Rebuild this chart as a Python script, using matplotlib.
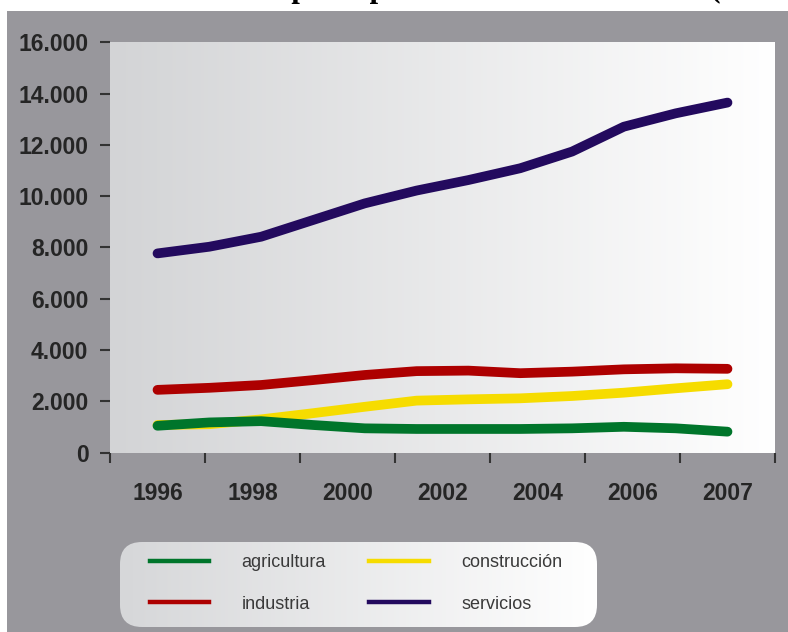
import matplotlib
matplotlib.use("Agg")
import matplotlib.pyplot as plt
import numpy as np
from matplotlib.lines import Line2D
from matplotlib.patches import Rectangle, FancyBboxPatch
from matplotlib.colors import LinearSegmentedColormap

# datos (miles de ocupados)
years = list(range(1996, 2008))
agricultura = [1050, 1180, 1230, 1080, 950, 925, 925, 925, 950, 1010, 950, 820]
industria = [2450, 2530, 2640, 2830, 3030, 3180, 3200, 3100, 3160, 3250, 3290, 3270]
construccion = [1080, 1110, 1300, 1540, 1790, 2030, 2080, 2120, 2210, 2340, 2510, 2670]
servicios = [7770, 8030, 8420, 9070, 9720, 10220, 10630, 11090, 11740, 12710, 13230, 13650]

x_labels = ["1996", "1998", "2000", "2002", "2004", "2006", "2007"]
y_ticks = [0, 2000, 4000, 6000, 8000, 10000, 12000, 14000, 16000]
y_labels = ["0", "2.000", "4.000", "6.000", "8.000", "10.000", "12.000", "14.000", "16.000"]

series = {
    "agricultura": {"values": agricultura, "color": "#00752b"},
    "industria": {"values": industria, "color": "#ad0000"},
    "construcción": {"values": construccion, "color": "#f6dc00"},
    "servicios": {"values": servicios, "color": "#230a5e"},
}
draw_order = ["servicios", "industria", "construcción", "agricultura"]
legend_order = ["agricultura", "industria", "construcción", "servicios"]

W, H = 788, 632
fig = plt.figure(figsize=(W / 100, H / 100), dpi=100)
fig.patch.set_facecolor("white")

# fondo gris
fig.add_artist(Rectangle((7 / W, 0), 1 - 7 / W, 1 - 11 / H, transform=fig.transFigure,
                         facecolor="#98979c", edgecolor="none", zorder=-1))

# titulo (cortado por arriba, como en el original)
fig.text(72 / W, 1 + 3.5 / H, "Evolución de los principales sectores económicos (miles)",
         fontsize=22, fontweight="bold", family="Liberation Serif", color="black",
         ha="left", va="baseline")

ax = fig.add_axes([110 / W, 1 - 452.7 / H, 665 / W, 410.4 / H])
xmin = 1996 - 0.5 * 11 / 6
xmax = 2007 + 0.5 * 11 / 6
ax.set_xlim(xmin, xmax)
ax.set_ylim(0, 16000)

# degradado del area de trazado
grad = np.linspace(0, 1, 256).reshape(1, -1)
cmap_plot = LinearSegmentedColormap.from_list("pa", ["#d3d4d6", "#ffffff"])
ax.imshow(grad, cmap=cmap_plot, extent=(0, 1, 0, 1), transform=ax.transAxes,
          aspect="auto", zorder=0)

for name in draw_order:
    s = series[name]
    ax.plot(years, s["values"], color=s["color"], lw=7, solid_capstyle="round",
            solid_joinstyle="round", zorder=2)

for sp in ax.spines.values():
    sp.set_visible(False)

# ejes
bounds = np.linspace(xmin, xmax, 8)
centers = (bounds[:-1] + bounds[1:]) / 2
ax.set_xticks(bounds)
ax.set_xticklabels([])
ax.set_xticks(centers, minor=True)
ax.set_xticklabels(x_labels, minor=True)
ax.tick_params(axis="x", which="major", length=7.5, width=1.5, color="#333333", direction="out")
ax.tick_params(axis="x", which="minor", length=0, pad=21, labelsize=16.5, labelcolor="#252525")
ax.set_yticks(y_ticks)
ax.set_yticklabels(y_labels)
ax.tick_params(axis="y", length=7, width=1.5, color="#333333", pad=8.5,
               labelsize=16.5, labelcolor="#252525")
for lab in ax.get_xticklabels(minor=True) + ax.get_yticklabels():
    lab.set_fontweight("bold")
    lab.set_family("Liberation Sans")

# caja de la leyenda
lx0, ly0, lw, lh = 120, 627, 477, 85
ax_leg = fig.add_axes([lx0 / W, 1 - ly0 / H, lw / W, lh / H])
ax_leg.set_xlim(0, lw)
ax_leg.set_ylim(0, lh)
ax_leg.axis("off")
box = FancyBboxPatch((0, 0), lw, lh, boxstyle="round,pad=0,rounding_size=22",
                     facecolor="none", edgecolor="none")
ax_leg.add_patch(box)
cmap_leg = LinearSegmentedColormap.from_list("lg", ["#d6d7d9", "#ffffff"])
im = ax_leg.imshow(grad, cmap=cmap_leg, extent=(0, lw, 0, lh), aspect="auto")
im.set_clip_path(box)

handles = [Line2D([], [], color=series[n]["color"], lw=3.2) for n in legend_order]
leg = fig.legend(handles, legend_order, ncol=2, loc="center",
                 bbox_to_anchor=(356 / W, 1 - 583.5 / H), frameon=False,
                 prop={"family": "Liberation Sans", "size": 13},
                 handlelength=3.3, handletextpad=1.8, columnspacing=2.4, labelspacing=1.35)
for t in leg.get_texts():
    t.set_color("#3a3a3a")

fig.savefig("out.png", dpi=100)
